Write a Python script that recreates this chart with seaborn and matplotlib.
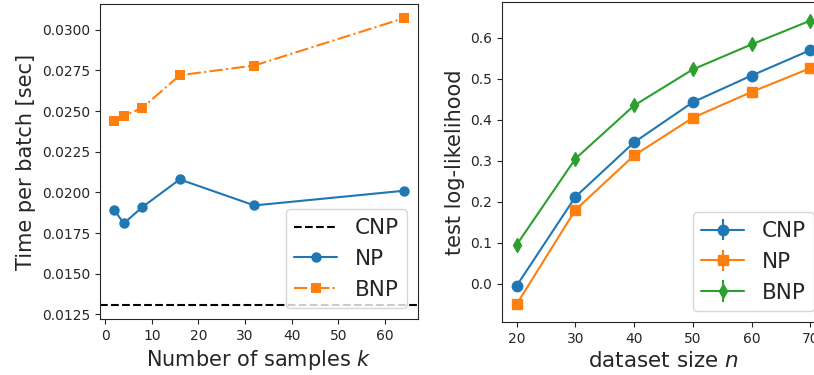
import numpy as np
import pandas as pd
import seaborn as sns
import matplotlib
matplotlib.use("Agg")
import matplotlib.pyplot as plt

# left panel: time per batch vs number of samples
k = [2, 4, 8, 16, 32, 64]
np_time = [0.0189, 0.0181, 0.0191, 0.0208, 0.0192, 0.0201]
bnp_time = [0.0244, 0.0247, 0.0252, 0.0272, 0.0278, 0.0307]
cnp_time = 0.0131

# right panel: test log-likelihood vs dataset size
n = [20, 30, 40, 50, 60, 70]
cnp_ll = [-0.005, 0.212, 0.345, 0.443, 0.508, 0.570]
np_ll = [-0.050, 0.180, 0.313, 0.405, 0.468, 0.526]
bnp_ll = [0.095, 0.305, 0.435, 0.523, 0.584, 0.642]
cnp_err = [0.008, 0.008, 0.008, 0.008, 0.008, 0.010]
np_err = [0.008, 0.008, 0.008, 0.008, 0.008, 0.010]
bnp_err = [0.010, 0.010, 0.010, 0.010, 0.010, 0.010]

sns.set_style("ticks")
plt.rcParams['font.family'] = ['DejaVu Sans']
pal = sns.color_palette("tab10")

W, H = 814, 375
fig = plt.figure(figsize=(W/100, H/100), dpi=100)
ax1 = fig.add_axes([100/W, (H-319)/H, 318/W, 315/H])
ax2 = fig.add_axes([502/W, (H-322)/H, 323/W, 320/H])

df_time = pd.DataFrame({"k": k, "NP": np_time, "BNP": bnp_time})
ax1.axhline(cnp_time, color="black", ls="--", lw=1.5, label="CNP")
sns.lineplot(data=df_time, x="k", y="NP", ax=ax1, color=pal[0], marker="o",
             markersize=7.5, markeredgewidth=0, lw=1.5, label="NP")
sns.lineplot(data=df_time, x="k", y="BNP", ax=ax1, color=pal[1], marker="s",
             markersize=7.5, markeredgewidth=0, lw=1.5, ls="-.", label="BNP")
ax1.set_xlabel("Number of samples $k$", fontsize=15)
ax1.set_ylabel("Time per batch [sec]", fontsize=15)
ax1.set_yticks([0.0125, 0.0150, 0.0175, 0.0200, 0.0225, 0.0250, 0.0275, 0.0300])
ax1.yaxis.set_major_formatter(matplotlib.ticker.FormatStrFormatter("%.4f"))
ax1.tick_params(labelsize=10)
ax1.legend(loc="lower right", fontsize=15.5)

ax2.errorbar(n, cnp_ll, yerr=cnp_err, color=pal[0], marker="o", markersize=7.5, lw=1.5, label="CNP")
ax2.errorbar(n, np_ll, yerr=np_err, color=pal[1], marker="s", markersize=7.5, lw=1.5, label="NP")
ax2.errorbar(n, bnp_ll, yerr=bnp_err, color=pal[2], marker="d", markersize=7.5, lw=1.5, label="BNP")
ax2.set_xlabel("dataset size $n$", fontsize=15.5)
ax2.set_ylabel("test log-likelihood", fontsize=15)
ax2.tick_params(labelsize=10)
ax2.legend(loc="lower right", fontsize=15.5)

fig.savefig("out.png", dpi=100)
